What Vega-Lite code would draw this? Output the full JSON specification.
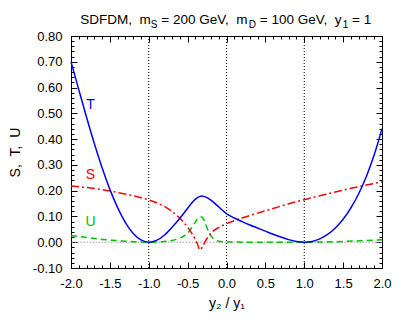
{
  "$schema": "https://vega.github.io/schema/vega-lite/v6.json",
  "width": 311,
  "height": 232,
  "autosize": {"type": "none"},
  "padding": {"left": 71, "top": 36, "right": 25, "bottom": 58},
  "background": "white",
  "config": {
    "view": {"stroke": "black", "strokeWidth": 1},
    "axis": {"grid": false, "domain": false, "labelFont": "Liberation Sans", "titleFont": "Liberation Sans", "labelColor": "black", "titleColor": "black", "tickColor": "black"},
    "text": {"font": "Liberation Sans"}
  },
  "datasets": {
    "T": [
      {"x": -2.0, "y": 0.700}, {"x": -1.9, "y": 0.592}, {"x": -1.8, "y": 0.485}, {"x": -1.7, "y": 0.383},
      {"x": -1.6, "y": 0.289}, {"x": -1.5, "y": 0.205}, {"x": -1.4, "y": 0.134}, {"x": -1.3, "y": 0.076},
      {"x": -1.2, "y": 0.034}, {"x": -1.1, "y": 0.009}, {"x": -1.0, "y": 0.000}, {"x": -0.9, "y": 0.007},
      {"x": -0.8, "y": 0.027}, {"x": -0.7, "y": 0.058}, {"x": -0.6, "y": 0.093}, {"x": -0.5, "y": 0.132},
      {"x": -0.45, "y": 0.151}, {"x": -0.4, "y": 0.167}, {"x": -0.35, "y": 0.177}, {"x": -0.32, "y": 0.179},
      {"x": -0.28, "y": 0.177}, {"x": -0.25, "y": 0.173}, {"x": -0.2, "y": 0.163}, {"x": -0.1, "y": 0.137},
      {"x": 0.0, "y": 0.111}, {"x": 0.1, "y": 0.094}, {"x": 0.2, "y": 0.080}, {"x": 0.3, "y": 0.067},
      {"x": 0.4, "y": 0.055}, {"x": 0.5, "y": 0.043}, {"x": 0.6, "y": 0.031}, {"x": 0.7, "y": 0.020},
      {"x": 0.8, "y": 0.010}, {"x": 0.9, "y": 0.003}, {"x": 1.0, "y": 0.000}, {"x": 1.1, "y": 0.003},
      {"x": 1.2, "y": 0.013}, {"x": 1.3, "y": 0.030}, {"x": 1.4, "y": 0.055}, {"x": 1.5, "y": 0.089},
      {"x": 1.6, "y": 0.133}, {"x": 1.7, "y": 0.188}, {"x": 1.8, "y": 0.256}, {"x": 1.9, "y": 0.339},
      {"x": 2.0, "y": 0.440}
    ],
    "S": [
      {"x": -2.0, "y": 0.218}, {"x": -1.8, "y": 0.212}, {"x": -1.6, "y": 0.204}, {"x": -1.4, "y": 0.193},
      {"x": -1.2, "y": 0.180}, {"x": -1.0, "y": 0.164}, {"x": -0.9, "y": 0.153}, {"x": -0.8, "y": 0.139},
      {"x": -0.7, "y": 0.119}, {"x": -0.6, "y": 0.093}, {"x": -0.55, "y": 0.077}, {"x": -0.5, "y": 0.058},
      {"x": -0.45, "y": 0.036}, {"x": -0.4, "y": 0.010}, {"x": -0.37, "y": -0.010}, {"x": -0.34, "y": -0.030},
      {"x": -0.31, "y": -0.018}, {"x": -0.27, "y": 0.005}, {"x": -0.23, "y": 0.024}, {"x": -0.2, "y": 0.035},
      {"x": -0.15, "y": 0.048}, {"x": -0.1, "y": 0.057}, {"x": 0.0, "y": 0.072}, {"x": 0.2, "y": 0.094},
      {"x": 0.4, "y": 0.113}, {"x": 0.6, "y": 0.131}, {"x": 0.8, "y": 0.149}, {"x": 1.0, "y": 0.165},
      {"x": 1.2, "y": 0.180}, {"x": 1.4, "y": 0.195}, {"x": 1.6, "y": 0.209}, {"x": 1.8, "y": 0.222},
      {"x": 2.0, "y": 0.234}
    ],
    "U": [
      {"x": -2.0, "y": 0.026}, {"x": -1.8, "y": 0.018}, {"x": -1.6, "y": 0.011}, {"x": -1.4, "y": 0.006},
      {"x": -1.2, "y": 0.002}, {"x": -1.0, "y": 0.000}, {"x": -0.8, "y": 0.003}, {"x": -0.7, "y": 0.007},
      {"x": -0.6, "y": 0.016}, {"x": -0.5, "y": 0.035}, {"x": -0.45, "y": 0.055}, {"x": -0.4, "y": 0.078},
      {"x": -0.35, "y": 0.097}, {"x": -0.32, "y": 0.098}, {"x": -0.28, "y": 0.080}, {"x": -0.25, "y": 0.055},
      {"x": -0.2, "y": 0.025}, {"x": -0.15, "y": 0.010}, {"x": -0.1, "y": 0.004}, {"x": 0.0, "y": 0.001},
      {"x": 0.5, "y": 0.000}, {"x": 1.0, "y": 0.000}, {"x": 1.5, "y": 0.003}, {"x": 2.0, "y": 0.010}
    ],
    "labels": [
      {"x": -1.75, "y": 0.532, "label": "T"},
      {"x": -1.75, "y": 0.261, "label": "S"},
      {"x": -1.75, "y": 0.080, "label": "U"}
    ],
    "titleMain": [
      {"x": -1.880, "y": 0.846, "text": "SDFDM,\u00a0\u00a0m"},
      {"x": -0.838, "y": 0.846, "text": "=\u00a0200\u00a0GeV,\u00a0\u00a0m"},
      {"x": 0.429, "y": 0.846, "text": "=\u00a0100\u00a0GeV,\u00a0\u00a0y"},
      {"x": 1.615, "y": 0.846, "text": "=\u00a01"}
    ],
    "titleSub": [
      {"x": -0.973, "y": 0.832, "text": "S"},
      {"x": 0.287, "y": 0.832, "text": "D"},
      {"x": 1.496, "y": 0.832, "text": "1"}
    ],
    "vlines": [{"x": -1.0}, {"x": 0.0}, {"x": 1.0}],
    "hline": [{"y": 0.0}]
  },
  "resolve": {"axis": {"x": "independent", "y": "independent"}},
  "layer": [
    {
      "data": {"name": "hline"},
      "mark": {"type": "rule", "color": "#a0a0a0", "strokeDash": [1.5, 1.5], "strokeWidth": 1},
      "encoding": {
        "y": {"field": "y", "type": "quantitative", "scale": {"domain": [-0.1, 0.8], "nice": false, "zero": false}, "axis": null}
      }
    },
    {
      "data": {"name": "vlines"},
      "mark": {"type": "rule", "color": "black", "strokeDash": [1, 2], "strokeWidth": 1},
      "encoding": {
        "x": {"field": "x", "type": "quantitative", "scale": {"domain": [-2, 2], "nice": false, "zero": false}, "axis": null}
      }
    },
    {
      "data": {"name": "U"},
      "mark": {"type": "line", "color": "#00c000", "strokeDash": [6, 4], "strokeWidth": 1.5, "interpolate": "monotone"},
      "encoding": {
        "x": {"field": "x", "type": "quantitative", "scale": {"domain": [-2, 2], "nice": false, "zero": false},
          "axis": {"orient": "bottom", "values": [-2.0,-1.9,-1.8,-1.7,-1.6,-1.5,-1.4,-1.3,-1.2,-1.1,-1.0,-0.9,-0.8,-0.7,-0.6,-0.5,-0.4,-0.3,-0.2,-0.1,0.0,0.1,0.2,0.3,0.4,0.5,0.6,0.7,0.8,0.9,1.0,1.1,1.2,1.3,1.4,1.5,1.6,1.7,1.8,1.9,2.0], "labels": false, "ticks": true, "tickSize": -3, "title": null}},
        "y": {"field": "y", "type": "quantitative", "scale": {"domain": [-0.1, 0.8], "nice": false, "zero": false},
          "axis": {"orient": "left", "values": [-0.1,-0.08,-0.06,-0.04,-0.02,0.0,0.02,0.04,0.06,0.08,0.1,0.12,0.14,0.16,0.18,0.2,0.22,0.24,0.26,0.28,0.3,0.32,0.34,0.36,0.38,0.4,0.42,0.44,0.46,0.48,0.5,0.52,0.54,0.56,0.58,0.6,0.62,0.64,0.66,0.68,0.7,0.72,0.74,0.76,0.78,0.8], "labels": false, "ticks": true, "tickSize": -3, "title": null}}
      }
    },
    {
      "data": {"name": "S"},
      "mark": {"type": "line", "color": "#ff0000", "strokeDash": [8, 3, 2, 3], "strokeWidth": 1.5, "interpolate": "monotone"},
      "encoding": {
        "x": {"field": "x", "type": "quantitative", "scale": {"domain": [-2, 2], "nice": false, "zero": false},
          "axis": {"orient": "bottom", "values": [-2.0,-1.5,-1.0,-0.5,0.0,0.5,1.0,1.5,2.0], "labels": false, "ticks": true, "tickSize": -6, "title": null}},
        "y": {"field": "y", "type": "quantitative", "scale": {"domain": [-0.1, 0.8], "nice": false, "zero": false},
          "axis": {"orient": "left", "values": [-0.1,0.0,0.1,0.2,0.3,0.4,0.5,0.6,0.7,0.8], "labels": false, "ticks": true, "tickSize": -6, "title": null}}
      }
    },
    {
      "data": {"name": "T"},
      "mark": {"type": "line", "color": "#0000ff", "strokeWidth": 1.5, "interpolate": "monotone"},
      "encoding": {
        "x": {"field": "x", "type": "quantitative", "scale": {"domain": [-2, 2], "nice": false, "zero": false},
          "axis": {"orient": "bottom", "values": [-2.0,-1.5,-1.0,-0.5,0.0,0.5,1.0,1.5,2.0], "ticks": false, "labels": true, "labelExpr": "replace(format(datum.value, '.1f'), '\u2212', '-')", "labelFontSize": 13, "labelPadding": 9, "labelFlush": false, "labelOverlap": false, "title": "y\u2082 / y\u2081", "titleFontSize": 14, "titleFontWeight": "normal", "titlePadding": 6}},
        "y": {"field": "y", "type": "quantitative", "scale": {"domain": [-0.1, 0.8], "nice": false, "zero": false},
          "axis": {"orient": "left", "values": [-0.1,0.0,0.1,0.2,0.3,0.4,0.5,0.6,0.7,0.8], "ticks": false, "labels": true, "labelExpr": "replace(format(datum.value, '.2f'), '\u2212', '-')", "labelFontSize": 13, "labelPadding": 9, "labelFlush": false, "labelOverlap": false, "title": "S,\u00a0\u00a0T,\u00a0\u00a0U", "titleFontSize": 14, "titleFontWeight": "normal", "titlePadding": 10}}
      }
    },
    {
      "data": {"name": "labels"},
      "mark": {"type": "text", "fontSize": 14, "align": "center", "baseline": "middle"},
      "encoding": {
        "x": {"field": "x", "type": "quantitative", "scale": {"domain": [-2, 2], "nice": false, "zero": false},
          "axis": {"orient": "top", "values": [-2.0,-1.5,-1.0,-0.5,0.0,0.5,1.0,1.5,2.0], "labels": false, "ticks": true, "tickSize": -6, "title": null}},
        "y": {"field": "y", "type": "quantitative", "scale": {"domain": [-0.1, 0.8], "nice": false, "zero": false},
          "axis": {"orient": "right", "values": [-0.1,0.0,0.1,0.2,0.3,0.4,0.5,0.6,0.7,0.8], "labels": false, "ticks": true, "tickSize": -6, "title": null}},
        "text": {"field": "label"},
        "color": {"field": "label", "type": "nominal", "scale": {"domain": ["T", "S", "U"], "range": ["#0000ff", "#ff0000", "#00c000"]}, "legend": null}
      }
    },
    {
      "data": {"name": "titleMain"},
      "mark": {"type": "text", "fontSize": 13.5, "align": "left", "baseline": "alphabetic", "color": "black"},
      "encoding": {
        "x": {"field": "x", "type": "quantitative", "scale": {"domain": [-2, 2], "nice": false, "zero": false},
          "axis": {"orient": "top", "values": [-2.0,-1.9,-1.8,-1.7,-1.6,-1.5,-1.4,-1.3,-1.2,-1.1,-1.0,-0.9,-0.8,-0.7,-0.6,-0.5,-0.4,-0.3,-0.2,-0.1,0.0,0.1,0.2,0.3,0.4,0.5,0.6,0.7,0.8,0.9,1.0,1.1,1.2,1.3,1.4,1.5,1.6,1.7,1.8,1.9,2.0], "labels": false, "ticks": true, "tickSize": -3, "title": null}},
        "y": {"field": "y", "type": "quantitative", "scale": {"domain": [-0.1, 0.8], "nice": false, "zero": false},
          "axis": {"orient": "right", "values": [-0.1,-0.08,-0.06,-0.04,-0.02,0.0,0.02,0.04,0.06,0.08,0.1,0.12,0.14,0.16,0.18,0.2,0.22,0.24,0.26,0.28,0.3,0.32,0.34,0.36,0.38,0.4,0.42,0.44,0.46,0.48,0.5,0.52,0.54,0.56,0.58,0.6,0.62,0.64,0.66,0.68,0.7,0.72,0.74,0.76,0.78,0.8], "labels": false, "ticks": true, "tickSize": -3, "title": null}},
        "text": {"field": "text"}
      }
    },
    {
      "data": {"name": "titleSub"},
      "mark": {"type": "text", "fontSize": 10, "align": "left", "baseline": "alphabetic", "color": "black"},
      "encoding": {
        "x": {"field": "x", "type": "quantitative", "scale": {"domain": [-2, 2], "nice": false, "zero": false}, "axis": null},
        "y": {"field": "y", "type": "quantitative", "scale": {"domain": [-0.1, 0.8], "nice": false, "zero": false}, "axis": null},
        "text": {"field": "text"}
      }
    }
  ]
}
